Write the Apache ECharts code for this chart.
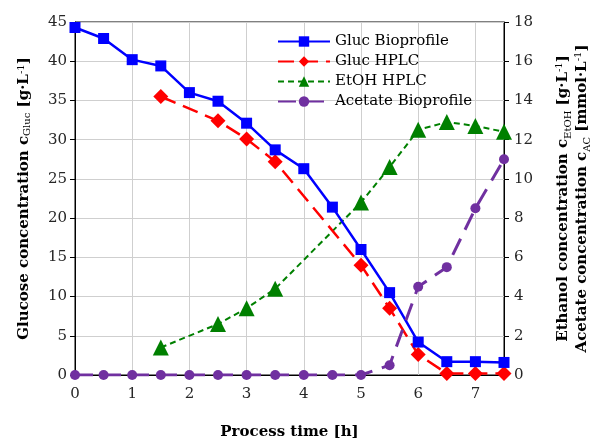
<!DOCTYPE html>
<html lang="en">
<head>
    <meta charset="UTF-8">
    <title>Glucose / Ethanol / Acetate</title>
    <script src="https://cdn.jsdelivr.net/npm/echarts@6/dist/echarts.min.js"></script>
</head>
<body style="margin:0;">
    <div id="chart" style="width: 593px; height: 443px;"></div>
    <script>
    // process time [h]
    var bioTimes = [0, 0.5, 1, 1.5, 2, 2.5, 3, 3.5, 4, 4.5, 5, 5.5, 6, 6.5, 7, 7.5];
    var hplcTimes = [1.5, 2.5, 3, 3.5, 5, 5.5, 6, 6.5, 7, 7.5];
    // glucose [g/L]
    var glucBio = [44.3, 42.9, 40.2, 39.4, 36.0, 34.9, 32.1, 28.7, 26.3, 21.4, 16.0, 10.5, 4.2, 1.7, 1.7, 1.6];
    var glucHplc = [35.5, 32.4, 30.1, 27.2, 14.0, 8.5, 2.6, 0.2, 0.2, 0.2];
    // ethanol [g/L], acetate [mmol/L] (right axis)
    var etohHplc = [1.4, 2.6, 3.4, 4.4, 8.8, 10.6, 12.5, 12.9, 12.7, 12.4];
    var acetBio = [0, 0, 0, 0, 0, 0, 0, 0, 0, 0, 0, 0.5, 4.5, 5.5, 8.5, 11.0];

    var seriesNames = ['Gluc Bioprofile', 'Gluc HPLC', 'EtOH HPLC', 'Acetate Bioprofile'];

    function pairs(xs, ys) {
        var out = [];
        for (var i = 0; i < xs.length; i++) {
            out.push([xs[i], ys[i]]);
        }
        return out;
    }

    var serif = 'DejaVu Serif';
    var titleRich = {
        b: { fontFamily: serif, fontWeight: 'bold', fontSize: 15, color: '#000' },
        sub: { fontFamily: serif, fontWeight: 'normal', fontSize: 10, color: '#000', verticalAlign: 'bottom', padding: [6, 0, 0, 0] },
        sup: { fontFamily: serif, fontWeight: 'normal', fontSize: 10, color: '#000', verticalAlign: 'top', padding: [0, 0, 6, 0] }
    };

    var myChart = echarts.init(document.getElementById('chart'));
    var option = {
        animation: false,
        backgroundColor: '#fff',
        grid: {
            left: 75, right: 89, top: 22, bottom: 68,
            outerBoundsMode: 'none',
            show: true,
            borderColor: '#000',
            borderWidth: 1
        },
        legend: {
            data: seriesNames,
            orient: 'vertical',
            left: 272,
            top: 29,
            itemWidth: 52,
            itemHeight: 13,
            itemGap: 5,
            textStyle: { fontFamily: serif, fontSize: 15, color: '#000' }
        },
        xAxis: {
            type: 'value',
            min: 0,
            max: 7.5,
            interval: 1,
            name: 'Process time [h]',
            nameLocation: 'middle',
            nameGap: 50,
            nameTextStyle: { fontFamily: serif, fontWeight: 'bold', fontSize: 15, color: '#000' },
            axisLine: { onZero: false, lineStyle: { color: '#000', width: 1 } },
            axisTick: { show: false },
            axisLabel: {
                showMaxLabel: false,
                margin: 12,
                fontFamily: serif, fontSize: 15, color: '#262626',
                formatter: function (v) { return v % 1 === 0 ? String(v) : ''; }
            },
            splitLine: { show: true, lineStyle: { color: '#cfcfcf', width: 1 } }
        },
        yAxis: [{
            type: 'value',
            min: 0,
            max: 45,
            interval: 5,
            name: '{b|Glucose concentration c}{sub|Gluc}{b| [g·L}{sup|-1}{b|]}',
            nameLocation: 'middle',
            nameGap: 43,
            nameTextStyle: { rich: titleRich },
            axisLine: { show: true, lineStyle: { color: '#000', width: 1 } },
            axisTick: { show: true, inside: false, length: 5, lineStyle: { color: '#000' } },
            axisLabel: { margin: 8, fontFamily: serif, fontSize: 15, color: '#262626' },
            splitLine: { show: true, lineStyle: { color: '#cfcfcf', width: 1 } }
        }, {
            type: 'value',
            min: 0,
            max: 18,
            interval: 2,
            position: 'right',
            name: '{b|Ethanol concentration c}{sub|EtOH}{b| [g·L}{sup|-1}{b|]}\n{b|Acetate concentration c}{sub|AC}{b| [mmol·L}{sup|-1}{b|]}',
            nameLocation: 'middle',
            nameGap: 50,
            nameTextStyle: { rich: titleRich, lineHeight: 19 },
            axisLine: { show: true, lineStyle: { color: '#000', width: 1 } },
            axisTick: { show: true, inside: false, length: 5, lineStyle: { color: '#000' } },
            axisLabel: { margin: 10, fontFamily: serif, fontSize: 15, color: '#262626' },
            splitLine: { show: false }
        }],
        series: [{
            name: seriesNames[0],
            type: 'line',
            yAxisIndex: 0,
            data: pairs(bioTimes, glucBio),
            symbol: 'rect',
            symbolSize: 11,
            itemStyle: { color: '#0000ff' },
            lineStyle: { color: '#0000ff', width: 2.5 },
            z: 4
        }, {
            name: seriesNames[1],
            type: 'line',
            yAxisIndex: 0,
            data: pairs(hplcTimes, glucHplc),
            symbol: 'diamond',
            symbolSize: 15,
            itemStyle: { color: '#ff0000' },
            lineStyle: { color: '#ff0000', width: 2.5, type: [16, 8] },
            z: 3
        }, {
            name: seriesNames[2],
            type: 'line',
            yAxisIndex: 1,
            data: pairs(hplcTimes, etohHplc),
            symbol: 'triangle',
            symbolSize: 16,
            itemStyle: { color: '#008000' },
            lineStyle: { color: '#008000', width: 2, type: [6, 4] },
            z: 2
        }, {
            name: seriesNames[3],
            type: 'line',
            yAxisIndex: 1,
            data: pairs(bioTimes, acetBio),
            symbol: 'circle',
            symbolSize: 10,
            itemStyle: { color: '#7030a0' },
            lineStyle: { color: '#7030a0', width: 3, type: [18, 10] },
            z: 5
        }]
    };
    myChart.setOption(option);
    </script>
</body>
</html>
